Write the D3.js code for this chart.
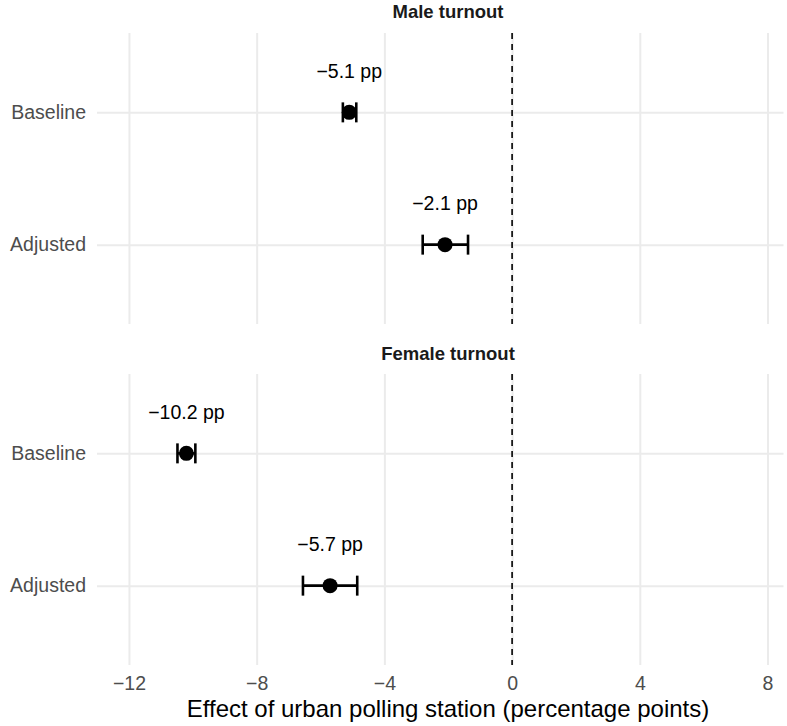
<!DOCTYPE html>
<html>
<head>
<meta charset="utf-8">
<script src="https://cdn.jsdelivr.net/npm/d3@7"></script>
<style>
  html, body { margin: 0; padding: 0; background: #fff; }
  svg { display: block; }
</style>
</head>
<body>
<svg id="chart"></svg>
<script>
/* ── Data ── */
const facets    = ['Male turnout', 'Female turnout'];
const models    = ['Baseline', 'Adjusted'];
const estimates = [[-5.1, -2.1], [-10.2, -5.7]];
const lowerCI   = [[-5.3, -2.8], [-10.48, -6.55]];
const upperCI   = [[-4.88, -1.38], [-9.92, -4.85]];
const xTicks    = [-12, -8, -4, 0, 4, 8];

const W = 787, H = 726;
const FONT = '"Liberation Sans", Arial, Helvetica, sans-serif';
const fmt = v => (v < 0 ? '\u2212' : '') + Math.abs(v).toFixed(1) + ' pp';
const tickFmt = v => (v < 0 ? '\u2212' : '') + Math.abs(v);

const svg = d3.select('#chart').attr('width', W).attr('height', H);

/* ── Scales ── */
const x = d3.scaleLinear().domain([-13, 8.5]).range([97, 783.5]);
const TITLE_X = 448;   // facet / axis titles centre
const panels = [
  { top: 33, bottom: 324, stripY: 13 },
  { top: 374, bottom: 665, stripY: 355 }
];

facets.forEach((facet, fi) => {
  const p = panels[fi];
  const y = d3.scalePoint().domain(models).range([p.top, p.bottom]).padding(0.6);

  const g = svg.append('g');

  /* strip title */
  g.append('text')
    .attr('x', TITLE_X)
    .attr('y', p.stripY)
    .attr('text-anchor', 'middle')
    .attr('dominant-baseline', 'middle')
    .attr('font-family', FONT)
    .attr('font-weight', 'bold')
    .attr('font-size', 18.5)
    .attr('fill', '#1a1a1a')
    .text(facet);

  /* vertical grid */
  g.append('g')
    .attr('transform', `translate(0,${p.top})`)
    .call(d3.axisBottom(x).tickValues(xTicks).tickSize(p.bottom - p.top).tickFormat(''))
    .call(ax => ax.select('.domain').remove())
    .call(ax => ax.selectAll('.tick line').attr('stroke', '#ebebeb').attr('stroke-width', 2));

  /* horizontal grid */
  g.append('g')
    .attr('transform', `translate(${x.range()[0]},0)`)
    .call(d3.axisRight(y).tickSize(x.range()[1] - x.range()[0]).tickFormat(''))
    .call(ax => ax.select('.domain').remove())
    .call(ax => ax.selectAll('.tick line').attr('stroke', '#ebebeb').attr('stroke-width', 2));

  /* y labels */
  g.append('g')
    .attr('transform', `translate(${x.range()[0]},0)`)
    .call(d3.axisLeft(y).tickSize(0).tickPadding(11))
    .call(ax => ax.select('.domain').remove())
    .call(ax => ax.selectAll('.tick text')
      .attr('fill', '#4d4d4d')
      .attr('font-size', 19.5)
      .attr('font-family', FONT));

  /* zero reference line */
  g.append('line')
    .attr('x1', x(0)).attr('x2', x(0))
    .attr('y1', p.top).attr('y2', p.bottom)
    .attr('stroke', '#000')
    .attr('stroke-width', 1.6)
    .attr('stroke-dasharray', '6,5');

  models.forEach((m, mi) => {
    const cy = y(m);
    const lo = lowerCI[fi][mi], hi = upperCI[fi][mi], est = estimates[fi][mi];

    /* error bar */
    g.append('line')
      .attr('x1', x(lo)).attr('x2', x(hi))
      .attr('y1', cy).attr('y2', cy)
      .attr('stroke', '#000').attr('stroke-width', 2.6);
    [lo, hi].forEach(v => {
      g.append('line')
        .attr('x1', x(v)).attr('x2', x(v))
        .attr('y1', cy - 10).attr('y2', cy + 10)
        .attr('stroke', '#000').attr('stroke-width', 2.6);
    });

    /* point */
    g.append('circle')
      .attr('cx', x(est)).attr('cy', cy)
      .attr('r', 7.5)
      .attr('fill', '#000');

    /* value label */
    g.append('text')
      .attr('x', x(est))
      .attr('y', cy - 40)
      .attr('text-anchor', 'middle')
      .attr('dominant-baseline', 'middle')
      .attr('font-family', FONT)
      .attr('font-size', 19.5)
      .attr('fill', '#000')
      .text(fmt(est));
  });
});

/* ── X axis (bottom) ── */
svg.append('g')
  .attr('transform', `translate(0,${panels[1].bottom})`)
  .call(d3.axisBottom(x).tickValues(xTicks).tickSize(0).tickPadding(11).tickFormat(tickFmt))
  .call(ax => ax.select('.domain').remove())
  .call(ax => ax.selectAll('.tick text')
    .attr('fill', '#4d4d4d')
    .attr('font-size', 19.5)
    .attr('font-family', FONT));

svg.append('text')
  .attr('x', TITLE_X)
  .attr('y', 711)
  .attr('text-anchor', 'middle')
  .attr('dominant-baseline', 'middle')
  .attr('font-family', FONT)
  .attr('font-size', 24)
  .attr('fill', '#000')
  .text('Effect of urban polling station (percentage points)');
</script>
</body>
</html>
